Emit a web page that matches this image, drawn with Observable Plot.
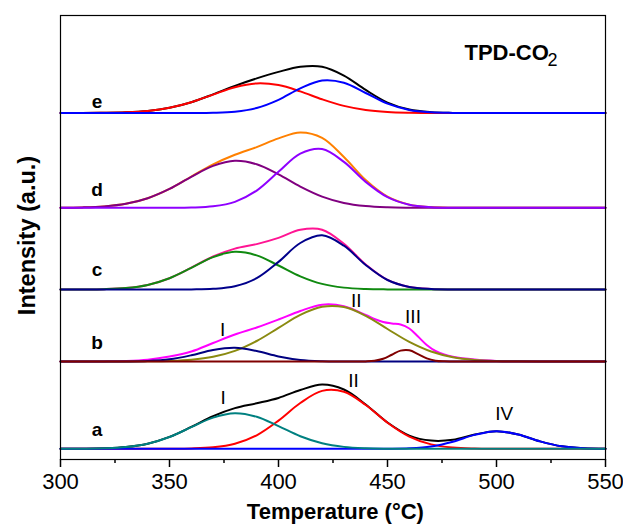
<!DOCTYPE html>
<html><head><meta charset="utf-8">
<script src="https://cdn.jsdelivr.net/npm/d3@7"></script>
<script src="https://cdn.jsdelivr.net/npm/@observablehq/plot@0.6"></script>
<style>
body{margin:0;background:#fff;}
#chart svg{display:block;}
</style></head><body><div id="chart"></div>
<script>
// Temperature grid (°C)
const temps = [300,310,320,330,340,350,360,370,380,390,400,410,420,430,440,450,460,470,480,490,500,510,520,530,540,550];

// Panel e
const eSum  = [0,0.04,0.18,0.67,2.06,5.2,10.8,18.65,27.15,34.6,41.1,46.2,46.2,37.4,23.05,10.4,3.4,0.8,0.12,0,0,0,0,0,0,0];
const eLow  = [0,0.04,0.18,0.67,2.06,5.2,10.8,18.4,25.8,29.6,27.9,21.6,13.7,7.1,3.05,1.07,0.31,0.07,0,0,0,0,0,0,0,0];
const eHigh = [0,0,0,0,0,0,0.03,0.25,1.35,5.0,13.2,24.6,32.5,30.3,20.0,9.35,3.09,0.72,0.12,0,0,0,0,0,0,0];

// Panel d
const dSum  = [0.1,0.4,1.4,4.0,9.6,18.9,31.3,43.4,53.0,60.7,69.4,75.3,69.9,50.8,27.7,11.1,3.2,0.7,0.1,0,0,0,0,0,0,0];
const dLow  = [0.1,0.4,1.4,4.0,9.6,18.9,31.0,41.9,47.0,43.5,33.4,21.2,11.2,4.86,1.75,0.52,0.13,0.03,0,0,0,0,0,0,0,0];
const dHigh = [0,0,0,0,0,0.03,0.27,1.5,5.97,17.2,36.0,54.1,58.7,45.9,25.9,10.6,3.1,0.66,0.1,0,0,0,0,0,0,0];

// Panel c
const cSum  = [0.01,0.07,0.36,1.46,4.6,11.3,21.8,33.0,40.85,45.4,51.6,59.7,59.8,45.7,25.0,9.6,2.57,0.47,0.06,0,0,0,0,0,0,0];
const cLow  = [0.01,0.07,0.36,1.46,4.6,11.3,21.7,32.4,37.65,34.1,24.0,13.2,5.6,1.87,0.49,0.1,0.02,0,0,0,0,0,0,0,0,0];
const cHigh = [0,0,0,0,0,0,0.09,0.64,3.2,11.3,27.6,46.5,54.2,43.8,24.5,9.5,2.55,0.47,0.06,0,0,0,0,0,0,0];

// Panel b
const bSumTemps = [300,310,320,330,340,350,360,370,380,390,400,410,420,430,440,444,448,452,456,460,464,468,472,476,480,490,500,510,520,530,540,550];
const bSum   = [0,0,0.1,0.5,1.8,5.0,10.0,18.5,27.0,34.0,42.0,50.5,56.8,55.3,46.5,42.5,39.5,38.0,37.0,33.0,25.0,16.5,10.5,7.0,4.8,2.0,0.6,0.2,0.05,0,0,0];
const bPeakI  = [0,0,0.01,0.07,0.48,2.17,6.25,11.5,13.66,10.4,5.05,1.58,0.31,0.04,0,0,0,0,0,0,0,0,0,0,0,0];
const bPeakII = [0,0,0.01,0.03,0.14,0.54,1.72,4.65,10.6,20.5,33.6,46.6,54.7,54.4,45.7,32.5,19.6,10.0,4.3,1.58,0.49,0.13,0.03,0,0,0];
const bIIITemps = [300,436,440,444,448,452,456,460,464,468,472,476,480,550];
const bPeakIII  = [0,0.01,0.11,0.68,2.68,6.74,10.87,11.24,7.45,3.17,0.86,0.15,0.02,0];

// Panel a
const aSum    = [0.02,0.1,0.46,1.71,5.07,11.86,21.93,32.67,40.65,45.5,50.85,58.8,64.3,59.3,44.34,26.27,13.2,8.2,9.0,14.3,17.65,14.3,7.43,2.48,0.53,0.07];
const aPeakI  = [0.02,0.1,0.46,1.71,5.06,11.8,21.6,31.2,35.6,32.0,22.65,12.6,5.56,1.93,0.53,0.11,0.02,0,0,0,0,0,0,0,0,0];
const aPeakII = [0,0,0,0,0.01,0.06,0.33,1.47,5.05,13.5,28.2,45.8,57.9,57.0,43.8,26.1,12.2,4.4,1.25,0.27,0.05,0,0,0,0,0];
const aPeakIV = [0,0,0,0,0,0,0,0,0,0,0,0,0,0,0.01,0.06,0.48,2.29,7.04,13.9,17.6,14.3,7.43,2.48,0.53,0.07];

// Panels, vertical offsets of each stacked trace
const panels = ["a","b","c","d","e"];
const offsets = [10.7, 98, 170, 251.7, 346.5];

// Tick labels
const majorTicks = [300,350,400,450,500,550];
const minorTicks = [325,375,425,475,525];

// Annotations
const letterY = [30, 117, 190, 270, 358];
const peakNames = ["I","II","III","I","II","IV"];
const peakNameT = [374.4, 435.7, 461.7, 374.6, 434.4, 503.5];
const peakNameY = [129.8, 158.7, 142.7, 61.5, 78.2, 45.7];

const off = Object.fromEntries(panels.map((p,i)=>[p, offsets[i]]));

const series = [
  {p:"e", x:temps, v:eSum,  c:"#000000"},
  {p:"e", x:temps, v:eLow,  c:"#ff0000"},
  {p:"e", x:temps, v:eHigh, c:"#0000ff"},
  {p:"d", x:temps, v:dSum,  c:"#ff8000"},
  {p:"d", x:temps, v:dLow,  c:"#800080"},
  {p:"d", x:temps, v:dHigh, c:"#8f00ff"},
  {p:"c", x:temps, v:cSum,  c:"#ff1493"},
  {p:"c", x:temps, v:cLow,  c:"#108a10"},
  {p:"c", x:temps, v:cHigh, c:"#00008b"},
  {p:"b", x:bSumTemps, v:bSum, c:"#ff00ff"},
  {p:"b", x:temps, v:bPeakII, c:"#8a8a10"},
  {p:"b", x:temps, v:bPeakI,  c:"#000080"},
  {p:"b", x:bIIITemps, v:bPeakIII, c:"#800000"},
  {p:"a", x:temps, v:aSum,    c:"#000000"},
  {p:"a", x:temps, v:aPeakII, c:"#ff0000"},
  {p:"a", x:temps, v:aPeakIV, c:"#0000ff"},
  {p:"a", x:temps, v:aPeakI,  c:"#008080"}
];

const font = "'Liberation Sans', Arial, Helvetica, sans-serif";
const marks = [];
for (const s of series) {
  const rows = s.x.map((t,i)=>({t, y: s.v[i] + off[s.p]}));
  marks.push(Plot.line(rows, {x:"t", y:"y", stroke:s.c, strokeWidth:2, curve:"catmull-rom"}));
}

marks.push(Plot.frame({stroke:"#000", strokeWidth:1.2}));
marks.push(Plot.axisX({ticks: majorTicks, tickSize: 8, tickPadding: 6, tickFormat: d => String(d), strokeWidth: 1.5, label: null, fontSize: 22}));
marks.push(Plot.axisX({ticks: minorTicks, tickSize: 4, tickFormat: () => "", strokeWidth: 1.5, label: null}));

marks.push(Plot.text(panels.map((p,i)=>({p, y: letterY[i]})), {
  x: () => 316.8, y: "y", text: "p", fontSize: 19, fontWeight: "bold", textAnchor: "middle", lineAnchor: "middle", fill: "#000"
}));
marks.push(Plot.text(peakNames.map((n,i)=>({n, t: peakNameT[i], y: peakNameY[i]})), {
  x: "t", y: "y", text: "n", fontSize: 19, textAnchor: "middle", lineAnchor: "middle", fill: "#000"
}));
marks.push(Plot.text([{t:485.3, y:406.5}], {x:"t", y:"y", text: () => "TPD-CO", fontSize: 22, fontWeight: "bold", textAnchor: "start", lineAnchor: "middle", fill:"#000", letterSpacing: "-0.5px"}));
marks.push(Plot.text([{t:523.4, y:399}], {x:"t", y:"y", text: () => "2", fontSize: 18, textAnchor: "start", lineAnchor: "middle", fill:"#000"}));
marks.push(Plot.text([{t:426.1}], {x:"t", frameAnchor:"bottom", dy: 52, text: () => "Temperature (°C)", fontSize: 22, fontWeight:"bold", textAnchor:"middle", lineAnchor:"middle", fill:"#000"}));
marks.push(Plot.text([0], {frameAnchor:"left", dx: -33, dy: -2, rotate: -90, text: () => "Intensity (a.u.)", fontSize: 23.5, fontWeight:"bold", textAnchor:"middle", lineAnchor:"middle", fill:"#000"}));

const chart = Plot.plot({
  width: 623,
  height: 526,
  marginLeft: 60,
  marginRight: 18,
  marginTop: 15,
  marginBottom: 67,
  style: {fontFamily: font, fontSize: "22px", color: "#000", background: "#fff"},
  x: {domain: [300, 550]},
  y: {domain: [0, 444], axis: null},
  marks
});
document.getElementById("chart").appendChild(chart);
</script>
</body></html>
